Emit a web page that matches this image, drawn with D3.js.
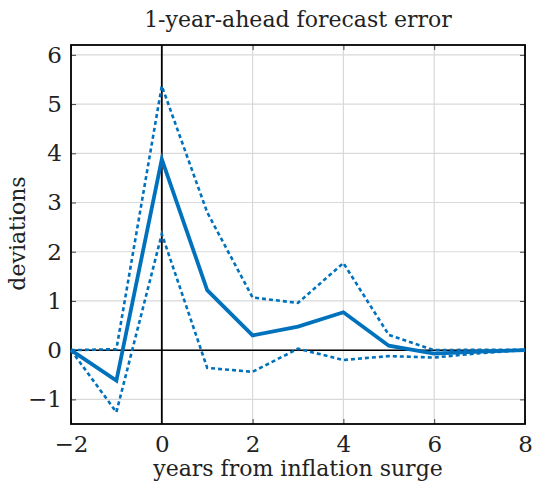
<!DOCTYPE html>
<html>
<head>
<meta charset="utf-8">
<script src="https://cdn.jsdelivr.net/npm/d3@7"></script>
<style>
body { margin: 0; background: #fff; }
</style>
</head>
<body>
<div id="chart"></div>
<script>
var WD = 533, HT = 482
var margin = { left: 71, right: 8, top: 45, bottom: 58 }
var width = WD - margin.left - margin.right
var height = HT - margin.top - margin.bottom
var FONT = "'DejaVu Serif', 'Liberation Serif', serif"

// data
var years = [-2, -1, 0, 1, 2, 3, 4, 5, 6, 7, 8]
var central = [0, -0.62, 3.88, 1.22, 0.3, 0.48, 0.77, 0.09, -0.07, -0.03, 0]
var upper = [0, 0.02, 5.37, 2.8, 1.07, 0.96, 1.77, 0.31, 0.0, 0.01, 0.01]
var lower = [0, -1.26, 2.36, -0.36, -0.44, 0.03, -0.2, -0.12, -0.15, -0.06, 0]
var xTicks = [-2, 0, 2, 4, 6, 8]
var yTicks = [-1, 0, 1, 2, 3, 4, 5, 6]

var blue = "#0072bd"

var svg = d3.select("#chart").append("svg")
    .attr("width", WD)
    .attr("height", HT)

var g = svg.append("g")
    .attr("transform", "translate(" + margin.left + "," + margin.top + ")")

var x = d3.scaleLinear().domain([-2, 8]).range([0, width])
var y = d3.scaleLinear().domain([-1.5, 6.2]).range([height, 0])

var fmt = function(d){ return d < 0 ? "\u2212" + Math.abs(d) : d }

// grid
g.selectAll(".hgrid").data(yTicks).enter().append("line")
    .attr("x1", 0).attr("x2", width)
    .attr("y1", function(d){ return y(d) }).attr("y2", function(d){ return y(d) })
    .attr("stroke", "#d9d9d9").attr("stroke-width", 1.2)
g.selectAll(".vgrid").data(xTicks).enter().append("line")
    .attr("y1", 0).attr("y2", height)
    .attr("x1", function(d){ return x(d) }).attr("x2", function(d){ return x(d) })
    .attr("stroke", "#d9d9d9").attr("stroke-width", 1.2)

// zero lines
g.append("line").attr("x1", 0).attr("x2", width)
    .attr("y1", y(0)).attr("y2", y(0))
    .attr("stroke", "#000").attr("stroke-width", 1.5)
g.append("line").attr("y1", 0).attr("y2", height)
    .attr("x1", x(0)).attr("x2", x(0))
    .attr("stroke", "#000").attr("stroke-width", 1.8)

// axes
g.append("g").attr("transform", "translate(0," + height + ")")
    .call(d3.axisBottom(x).tickValues(xTicks).tickFormat(fmt).tickSizeInner(-5).tickSizeOuter(0).tickPadding(12))
g.append("g")
    .call(d3.axisTop(x).tickValues(xTicks).tickFormat("").tickSizeInner(-5).tickSizeOuter(0))
g.append("g")
    .call(d3.axisLeft(y).tickValues(yTicks).tickFormat(fmt).tickSizeInner(-5).tickSizeOuter(0).tickPadding(9))
g.append("g").attr("transform", "translate(" + width + ",0)")
    .call(d3.axisRight(y).tickValues(yTicks).tickFormat("").tickSizeInner(-5).tickSizeOuter(0))

svg.selectAll(".domain").remove()
svg.selectAll(".tick line").attr("stroke", "#444").attr("stroke-width", 1)
svg.selectAll(".tick text")
    .attr("font-family", null)
    .style("font-family", FONT)
    .style("font-size", "23px")
    .attr("fill", "#222")

// frame
g.append("rect").attr("width", width).attr("height", height)
    .attr("fill", "none").attr("stroke", "#000").attr("stroke-width", 1.8)

// lines
var line = d3.line()
    .x(function(d){ return x(d[0]) })
    .y(function(d){ return y(d[1]) })

function pairs(vals){ return years.map(function(yr, i){ return [yr, vals[i]] }) }

g.append("path").datum(pairs(upper))
    .attr("d", line).attr("fill", "none")
    .attr("stroke", blue).attr("stroke-width", 2.6).attr("stroke-dasharray", "4,3")
g.append("path").datum(pairs(lower))
    .attr("d", line).attr("fill", "none")
    .attr("stroke", blue).attr("stroke-width", 2.6).attr("stroke-dasharray", "4,3")
g.append("path").datum(pairs(central))
    .attr("d", line).attr("fill", "none")
    .attr("stroke", blue).attr("stroke-width", 3.8).attr("stroke-linejoin", "miter")

// labels
function label(sel){
  return sel.style("font-family", FONT).style("font-size", "22px").attr("fill", "#222")
}

svg.append("text")
    .attr("x", margin.left + width / 2).attr("y", 27)
    .attr("text-anchor", "middle")
    .call(label)
    .text("1-year-ahead forecast error")

svg.append("text")
    .attr("x", margin.left + width / 2).attr("y", 476)
    .attr("text-anchor", "middle")
    .call(label)
    .text("years from inflation surge")

svg.append("text")
    .attr("transform", "translate(25," + (margin.top + height / 2 - 1) + ") rotate(-90)")
    .attr("text-anchor", "middle")
    .call(label)
    .text("deviations")
</script>
</body>
</html>
